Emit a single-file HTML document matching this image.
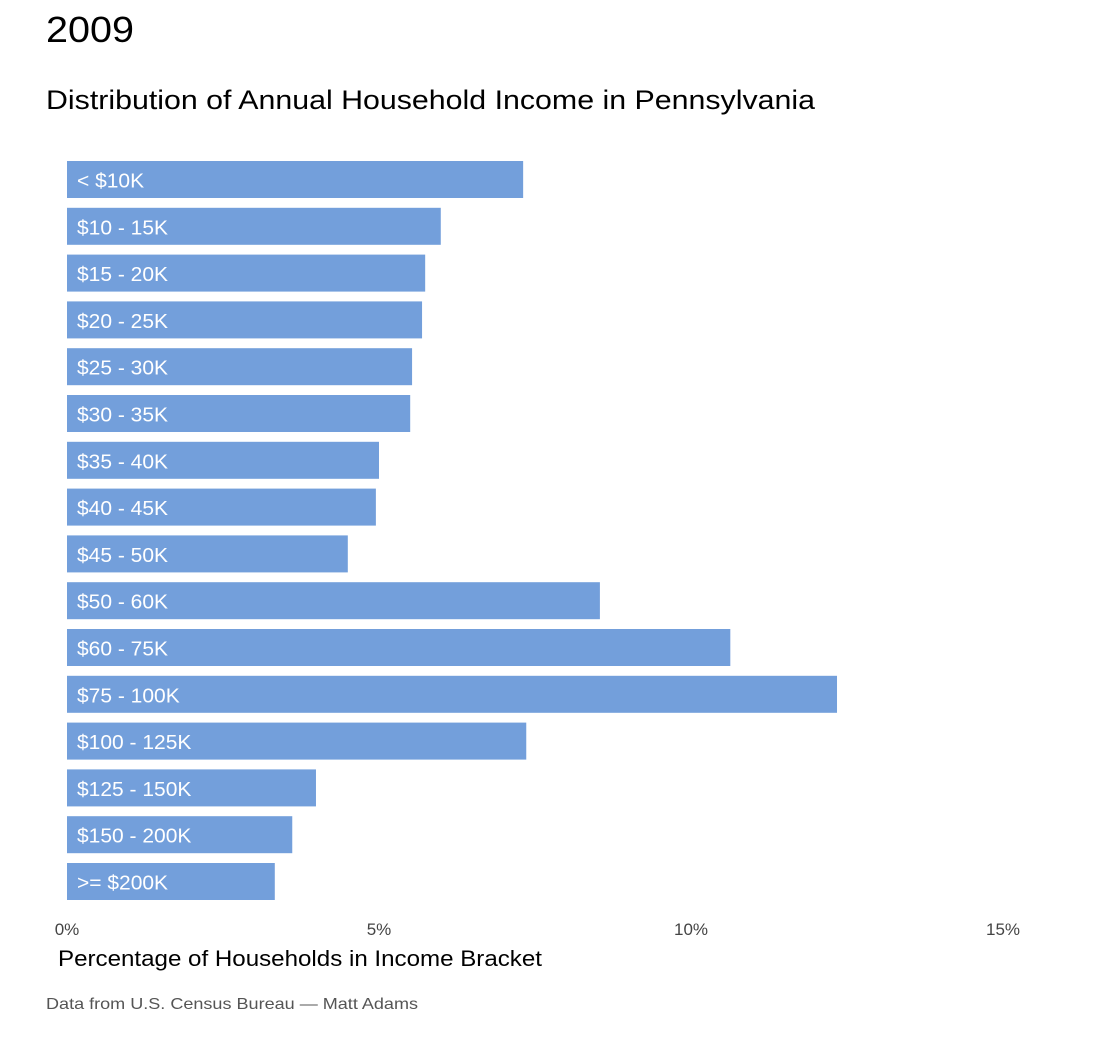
<!DOCTYPE html>
<html><head><meta charset="utf-8">
<style>
body{margin:0;background:#fff;font-family:"Liberation Sans",sans-serif;}
#wrap{position:relative;width:1100px;height:1040px;overflow:hidden;}
</style></head>
<body>
<div id="wrap">
<svg id="chart" width="1100" height="1040">
<text x="46" y="42" font-size="36" fill="#000" textLength="88" lengthAdjust="spacingAndGlyphs">2009</text>
<text x="46" y="109" font-size="27" fill="#000" textLength="769" lengthAdjust="spacingAndGlyphs">Distribution of Annual Household Income in Pennsylvania</text>
<g id="bars"></g>
<g id="ticks"></g>
<text x="58" y="966" font-size="22" fill="#000" textLength="484" lengthAdjust="spacingAndGlyphs">Percentage of Households in Income Bracket</text>
<text x="46" y="1009" font-size="16" fill="#555" textLength="372" lengthAdjust="spacingAndGlyphs">Data from U.S. Census Bureau — Matt Adams</text>
</svg>
</div>
<script>
const categories = ["< $10K","$10 - 15K","$15 - 20K","$20 - 25K","$25 - 30K","$30 - 35K","$35 - 40K","$40 - 45K","$45 - 50K","$50 - 60K","$60 - 75K","$75 - 100K","$100 - 125K","$125 - 150K","$150 - 200K",">= $200K"];
const values = [7.31,5.99,5.74,5.69,5.53,5.50,5.00,4.95,4.50,8.54,10.63,12.34,7.36,3.99,3.61,3.33];
const tickValues = [0,5,10,15];
const tickLabels = ["0%","5%","10%","15%"];

const NS="http://www.w3.org/2000/svg";
const x0=67, pxPer=62.4, y0=161, step=46.8, bh=37;
const xs=v=>x0+v*pxPer;
const ys=i=>y0+i*step;
const bars=document.getElementById('bars');
categories.forEach((c,i)=>{
  const r=document.createElementNS(NS,'rect');
  r.setAttribute('x',x0);r.setAttribute('y',ys(i));
  r.setAttribute('width',xs(values[i])-x0);r.setAttribute('height',bh);
  r.setAttribute('fill','#739fdb');
  
  
  bars.appendChild(r);
  const t=document.createElementNS(NS,'text');
  t.setAttribute('x',x0+10);t.setAttribute('y',ys(i)+bh/2+8);
  t.setAttribute('font-size','20');t.setAttribute('fill','#fff');
  t.setAttribute('transform','translate('+(x0+10)+',0) scale(1.05,1) translate('+(-(x0+10))+',0)');
  t.textContent=c;
  
  
  bars.appendChild(t);
});
const ticks=document.getElementById('ticks');
tickValues.forEach((v,i)=>{
  const t=document.createElementNS(NS,'text');
  t.setAttribute('x',xs(v));t.setAttribute('y',935);
  t.setAttribute('font-size','17');t.setAttribute('fill','#444');
  t.setAttribute('text-anchor','middle');
  t.textContent=tickLabels[i];
  
  
  ticks.appendChild(t);
});
</script>
</body></html>
